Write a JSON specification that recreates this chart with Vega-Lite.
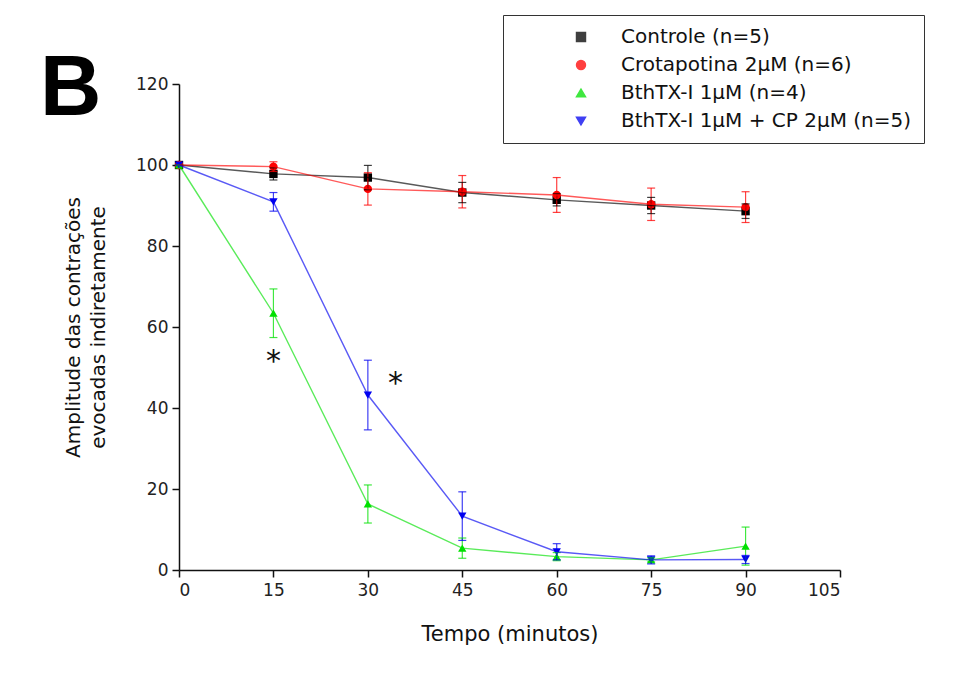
{
  "$schema": "https://vega.github.io/schema/vega-lite/v6.json",
  "autosize": "none",
  "width": 661,
  "height": 486,
  "padding": {"left": 179, "top": 84, "right": 116, "bottom": 105},
  "background": "white",
  "config": {
    "view": {"stroke": null},
    "font": "DejaVu Sans",
    "axis": {
      "grid": false,
      "domainColor": "#111",
      "domainWidth": 1.5,
      "tickColor": "#111",
      "tickWidth": 1.5,
      "tickSize": 7,
      "labelFont": "DejaVu Sans",
      "labelFontSize": 17,
      "labelColor": "#222",
      "titleFont": "DejaVu Sans",
      "titleFontWeight": "normal",
      "titleColor": "#111"
    }
  },
  "title": {
    "text": "B",
    "anchor": "start",
    "frame": "group",
    "font": "Liberation Sans",
    "fontSize": 85,
    "fontWeight": "bold",
    "color": "#000",
    "baseline": "alphabetic",
    "offset": 0,
    "dx": -139,
    "dy": 185
  },
  "datasets": {
    "series": [
      {"grupo": "Controle (n=5)", "t": 0, "v": 100, "lo": 100, "hi": 100},
      {"grupo": "Controle (n=5)", "t": 15, "v": 97.8, "lo": 96.3, "hi": 99.3},
      {"grupo": "Controle (n=5)", "t": 30, "v": 96.9, "lo": 93.9, "hi": 99.9},
      {"grupo": "Controle (n=5)", "t": 45, "v": 93.2, "lo": 90.7, "hi": 95.7},
      {"grupo": "Controle (n=5)", "t": 60, "v": 91.4, "lo": 89.9, "hi": 92.9},
      {"grupo": "Controle (n=5)", "t": 75, "v": 90.0, "lo": 88.0, "hi": 92.0},
      {"grupo": "Controle (n=5)", "t": 90, "v": 88.6, "lo": 86.8, "hi": 90.4},
      {"grupo": "Crotapotina 2μM (n=6)", "t": 0, "v": 100, "lo": 100, "hi": 100},
      {"grupo": "Crotapotina 2μM (n=6)", "t": 15, "v": 99.6, "lo": 98.4, "hi": 100.8},
      {"grupo": "Crotapotina 2μM (n=6)", "t": 30, "v": 94.1, "lo": 90.1, "hi": 98.1},
      {"grupo": "Crotapotina 2μM (n=6)", "t": 45, "v": 93.4, "lo": 89.4, "hi": 97.4},
      {"grupo": "Crotapotina 2μM (n=6)", "t": 60, "v": 92.6, "lo": 88.3, "hi": 96.9},
      {"grupo": "Crotapotina 2μM (n=6)", "t": 75, "v": 90.3, "lo": 86.3, "hi": 94.3},
      {"grupo": "Crotapotina 2μM (n=6)", "t": 90, "v": 89.6, "lo": 85.8, "hi": 93.4},
      {"grupo": "BthTX-I 1μM (n=4)", "t": 0, "v": 100, "lo": 100, "hi": 100},
      {"grupo": "BthTX-I 1μM (n=4)", "t": 15, "v": 63.4, "lo": 57.4, "hi": 69.4},
      {"grupo": "BthTX-I 1μM (n=4)", "t": 30, "v": 16.3, "lo": 11.6, "hi": 21.0},
      {"grupo": "BthTX-I 1μM (n=4)", "t": 45, "v": 5.4, "lo": 2.9, "hi": 7.9},
      {"grupo": "BthTX-I 1μM (n=4)", "t": 60, "v": 3.3, "lo": 2.3, "hi": 4.3},
      {"grupo": "BthTX-I 1μM (n=4)", "t": 75, "v": 2.5, "lo": 2.0, "hi": 3.0},
      {"grupo": "BthTX-I 1μM (n=4)", "t": 90, "v": 5.9, "lo": 1.2, "hi": 10.6},
      {"grupo": "BthTX-I 1μM + CP 2μM (n=5)", "t": 0, "v": 100, "lo": 100, "hi": 100},
      {"grupo": "BthTX-I 1μM + CP 2μM (n=5)", "t": 15, "v": 90.9, "lo": 88.6, "hi": 93.2},
      {"grupo": "BthTX-I 1μM + CP 2μM (n=5)", "t": 30, "v": 43.2, "lo": 34.6, "hi": 51.8},
      {"grupo": "BthTX-I 1μM + CP 2μM (n=5)", "t": 45, "v": 13.3, "lo": 7.3, "hi": 19.3},
      {"grupo": "BthTX-I 1μM + CP 2μM (n=5)", "t": 60, "v": 4.5, "lo": 2.5, "hi": 6.5},
      {"grupo": "BthTX-I 1μM + CP 2μM (n=5)", "t": 75, "v": 2.5, "lo": 1.5, "hi": 3.5},
      {"grupo": "BthTX-I 1μM + CP 2μM (n=5)", "t": 90, "v": 2.6, "lo": 1.6, "hi": 3.6}
    ],
    "stars": [
      {"t": 15, "v": 51.4, "label": "*"},
      {"t": 34.4, "v": 45.9, "label": "*"}
    ]
  },
  "layer": [
    {
      "data": {"name": "series"},
      "mark": {"type": "point", "filled": true, "opacity": 1, "size": 70},
      "encoding": {
        "x": {
          "field": "t", "type": "quantitative",
          "scale": {"domain": [0, 105], "nice": false, "zero": false},
          "axis": {"values": [0, 15, 30, 45, 60, 75, 90, 105], "title": "Tempo (minutos)", "titleFontSize": 21, "titlePadding": 25, "labelPadding": 5}
        },
        "y": {
          "field": "v", "type": "quantitative",
          "scale": {"domain": [0, 120], "nice": false},
          "axis": {"values": [0, 20, 40, 60, 80, 100, 120], "title": ["Amplitude das contrações", "evocadas indiretamente"], "titleFontSize": 20, "titleLineHeight": 25, "titlePadding": 27, "labelPadding": 4}
        },
        "color": {
          "field": "grupo", "type": "nominal",
          "scale": {
            "domain": ["Controle (n=5)", "Crotapotina 2μM (n=6)", "BthTX-I 1μM (n=4)", "BthTX-I 1μM + CP 2μM (n=5)"],
            "range": ["#000000", "#ff0000", "#00e000", "#0000f0"]
          },
          "legend": {
            "title": null,
            "orient": "none",
            "legendX": 324,
            "legendY": -69,
            "padding": 12,
            "strokeColor": "#333",
            "fillColor": "white",
            "labelFont": "DejaVu Sans",
            "labelFontSize": 20,
            "labelColor": "#111",
            "labelLimit": 500,
            "labelOffset": 30,
            "symbolSize": 80,
            "symbolOffset": 56,
            "symbolOpacity": 1,
            "rowPadding": 8
          }
        },
        "shape": {
          "field": "grupo", "type": "nominal",
          "scale": {
            "domain": ["Controle (n=5)", "Crotapotina 2μM (n=6)", "BthTX-I 1μM (n=4)", "BthTX-I 1μM + CP 2μM (n=5)"],
            "range": ["square", "circle", "triangle-up", "triangle-down"]
          },
          "legend": null
        }
      }
    },
    {
      "data": {"name": "series"},
      "mark": {"type": "rule", "strokeWidth": 1.2, "opacity": 0.75},
      "encoding": {
        "x": {"field": "t", "type": "quantitative"},
        "y": {"field": "lo", "type": "quantitative"},
        "y2": {"field": "hi"},
        "color": {"field": "grupo", "type": "nominal"}
      }
    },
    {
      "data": {"name": "series"},
      "mark": {"type": "tick", "orient": "horizontal", "size": 8, "thickness": 1.2, "opacity": 0.75},
      "encoding": {
        "x": {"field": "t", "type": "quantitative"},
        "y": {"field": "lo", "type": "quantitative"},
        "color": {"field": "grupo", "type": "nominal"}
      }
    },
    {
      "data": {"name": "series"},
      "mark": {"type": "tick", "orient": "horizontal", "size": 8, "thickness": 1.2, "opacity": 0.75},
      "encoding": {
        "x": {"field": "t", "type": "quantitative"},
        "y": {"field": "hi", "type": "quantitative"},
        "color": {"field": "grupo", "type": "nominal"}
      }
    },
    {
      "data": {"name": "series"},
      "mark": {"type": "line", "strokeWidth": 1.4, "opacity": 0.65},
      "encoding": {
        "x": {"field": "t", "type": "quantitative"},
        "y": {"field": "v", "type": "quantitative"},
        "color": {"field": "grupo", "type": "nominal"},
        "order": {"field": "t", "type": "quantitative"}
      }
    },
    {
      "data": {"name": "stars"},
      "mark": {"type": "text", "font": "DejaVu Sans", "fontSize": 30, "color": "#111", "baseline": "middle", "align": "center"},
      "encoding": {
        "x": {"field": "t", "type": "quantitative"},
        "y": {"field": "v", "type": "quantitative"},
        "text": {"field": "label"}
      }
    }
  ]
}
